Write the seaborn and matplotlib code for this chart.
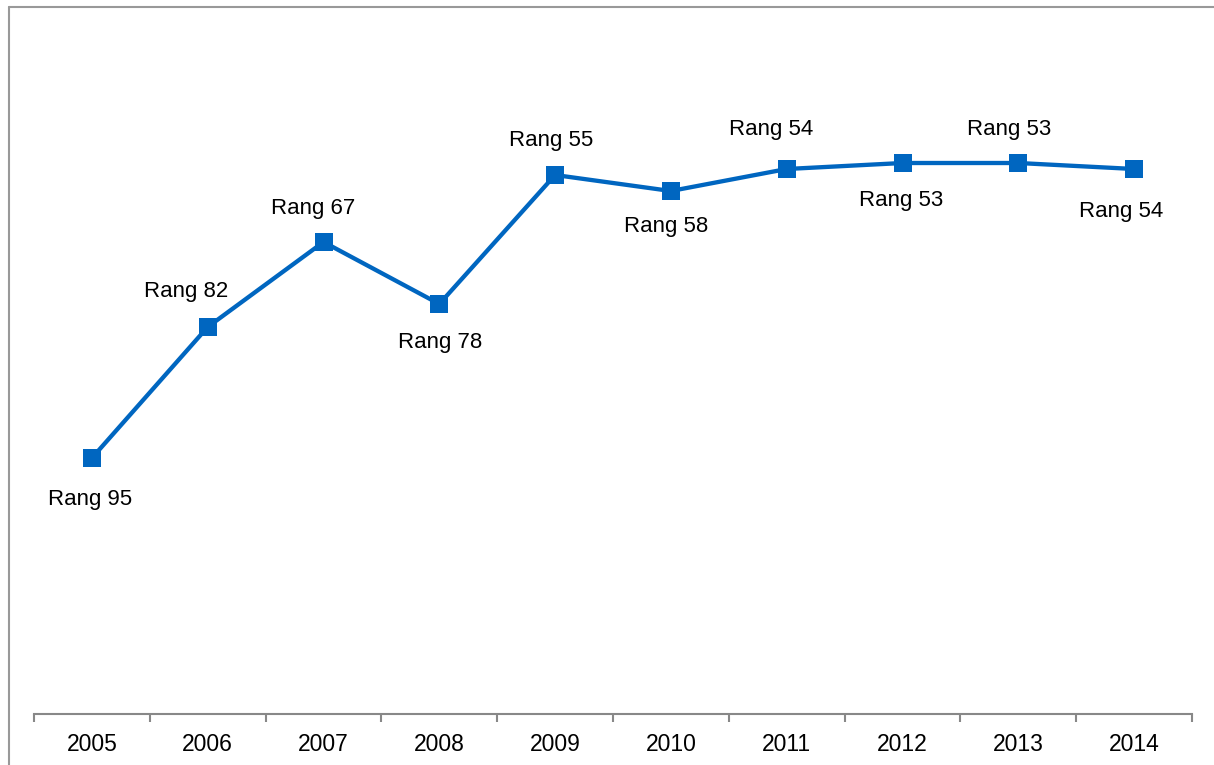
import matplotlib
matplotlib.use("Agg")
import matplotlib.pyplot as plt
import seaborn as sns
import pandas as pd
from matplotlib.lines import Line2D
from matplotlib.ticker import FixedLocator

years = ["2005", "2006", "2007", "2008", "2009", "2010", "2011", "2012", "2013", "2014"]
scores = [25.6, 38.7, 47.2, 41.0, 53.9, 52.3, 54.5, 55.1, 55.1, 54.5]
ranks = [95, 82, 67, 78, 55, 58, 54, 53, 53, 54]
label_dx = [-2, -22, -10, 1, -4, -5, -16, -1, -9, -13]
label_dy = [-39, 38, 36, -36, 37, -33, 42, -35, 36, -40]

sns.set_theme(style="white")
plt.rcParams["font.family"] = ["Liberation Sans", "DejaVu Sans"]

W, H = 1214, 765
fig = plt.figure(figsize=(W / 100, H / 100), dpi=100)
ax = fig.add_axes([34 / W, 1 - 714 / H, (1192 - 34) / W, (714 - 7) / H])

df = pd.DataFrame({"year": years, "score": scores})
color = "#0066C0"
sns.lineplot(data=df, x="year", y="score", ax=ax, color=color, linewidth=3.1,
             marker="s", markersize=13, markeredgewidth=0, sort=False)

for i, (r, dx, dy) in enumerate(zip(ranks, label_dx, label_dy)):
    ax.annotate(f"Rang {r}", xy=(i, scores[i]), xytext=(dx * 0.72, (dy - 2.5) * 0.72),
                textcoords="offset points", ha="center", va="center",
                fontsize=16, color="black")

ax.set_xlim(-0.5, len(years) - 0.5)
ax.set_ylim(0, 70.7)
ax.set_xlabel("")
ax.set_ylabel("")
ax.set_yticks([])
ax.set_xticks(range(len(years)))
ax.set_xticklabels(years, fontsize=16.5, color="black")
ax.xaxis.set_minor_locator(FixedLocator([i - 0.5 for i in range(len(years) + 1)]))
ax.tick_params(axis="x", which="major", length=0, pad=14)
ax.tick_params(axis="x", which="minor", length=6, width=1.5, color="#888888", bottom=True)
for s in ["left", "top", "right"]:
    ax.spines[s].set_visible(False)
ax.spines["bottom"].set_color("#888888")
ax.spines["bottom"].set_linewidth(1.5)
ax.patch.set_alpha(0)

# figure frame (left and top)
fig.add_artist(Line2D([8.5 / W, 8.5 / W], [0, 1 - 7 / H], transform=fig.transFigure,
                      color="#999999", linewidth=1.5))
fig.add_artist(Line2D([8.5 / W, 1], [1 - 7 / H, 1 - 7 / H], transform=fig.transFigure,
                      color="#999999", linewidth=1.5))

fig.savefig("out.png", dpi=100)
